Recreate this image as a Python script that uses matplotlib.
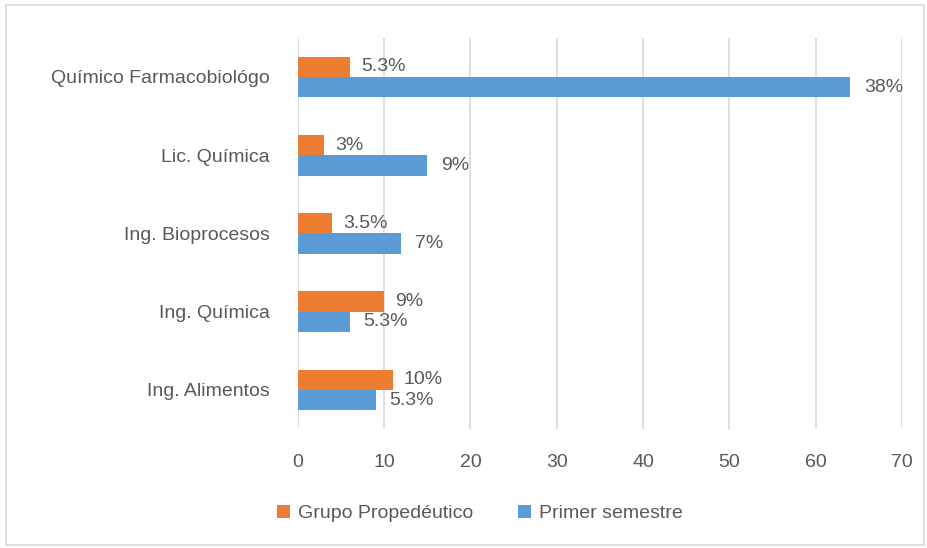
import matplotlib
matplotlib.use("Agg")
import matplotlib.pyplot as plt
import numpy as np
from matplotlib.patches import Rectangle

# data (bottom to top)
categories = ["Ing. Alimentos", "Ing. Química", "Ing. Bioprocesos",
              "Lic. Química", "Químico Farmacobiológo"]
propedeutico = [11, 10, 4, 3, 6]
primer = [9, 6, 12, 15, 64]
prop_labels = ["10%", "9%", "3.5%", "3%", "5.3%"]
primer_labels = ["5.3%", "5.3%", "7%", "9%", "38%"]

orange = "#ED7D31"
blue = "#5B9BD5"
txt = "#595959"
fs = 14

plt.rcParams["font.family"] = ["Liberation Sans", "DejaVu Sans"]

fig = plt.figure(figsize=(9.28, 5.48), dpi=100)
ax = fig.add_axes([0.321, 0.217, 0.651, 0.714])

y = np.arange(len(categories))
h = 0.26
b1 = ax.barh(y + h / 2, propedeutico, height=h, color=orange, label="Grupo Propedéutico")
b2 = ax.barh(y - h / 2, primer, height=h, color=blue, label="Primer semestre")

ax.bar_label(b1, labels=prop_labels, padding=8, fontsize=fs, color=txt)
ax.bar_label(b2, labels=primer_labels, padding=10, fontsize=fs, color=txt)

ax.set_xlim(0, 70)
ax.set_ylim(-0.5, len(categories) - 0.5)
ax.set_xticks(range(0, 71, 10))
ax.set_yticks(y)
ax.set_yticklabels(categories)
ax.tick_params(axis="both", length=0, labelsize=fs, labelcolor=txt)
ax.tick_params(axis="x", pad=18)
ax.tick_params(axis="y", pad=20)
ax.grid(axis="x", color="#D9D9D9", linewidth=1.2)
ax.set_axisbelow(True)
for s in ax.spines.values():
    s.set_visible(False)

fig.legend(handles=[b1, b2], loc="center", bbox_to_anchor=(0.517, 0.063), ncol=2,
           frameon=False, fontsize=fs, labelcolor=txt, handlelength=0.7,
           handleheight=0.7, handletextpad=0.4, columnspacing=2.3)

fig.patches.append(Rectangle((0.006, 0.006), 0.99, 0.985, transform=fig.transFigure,
                             fill=False, edgecolor="#D9D9D9", linewidth=1.2))

fig.savefig("out.png", dpi=100)
